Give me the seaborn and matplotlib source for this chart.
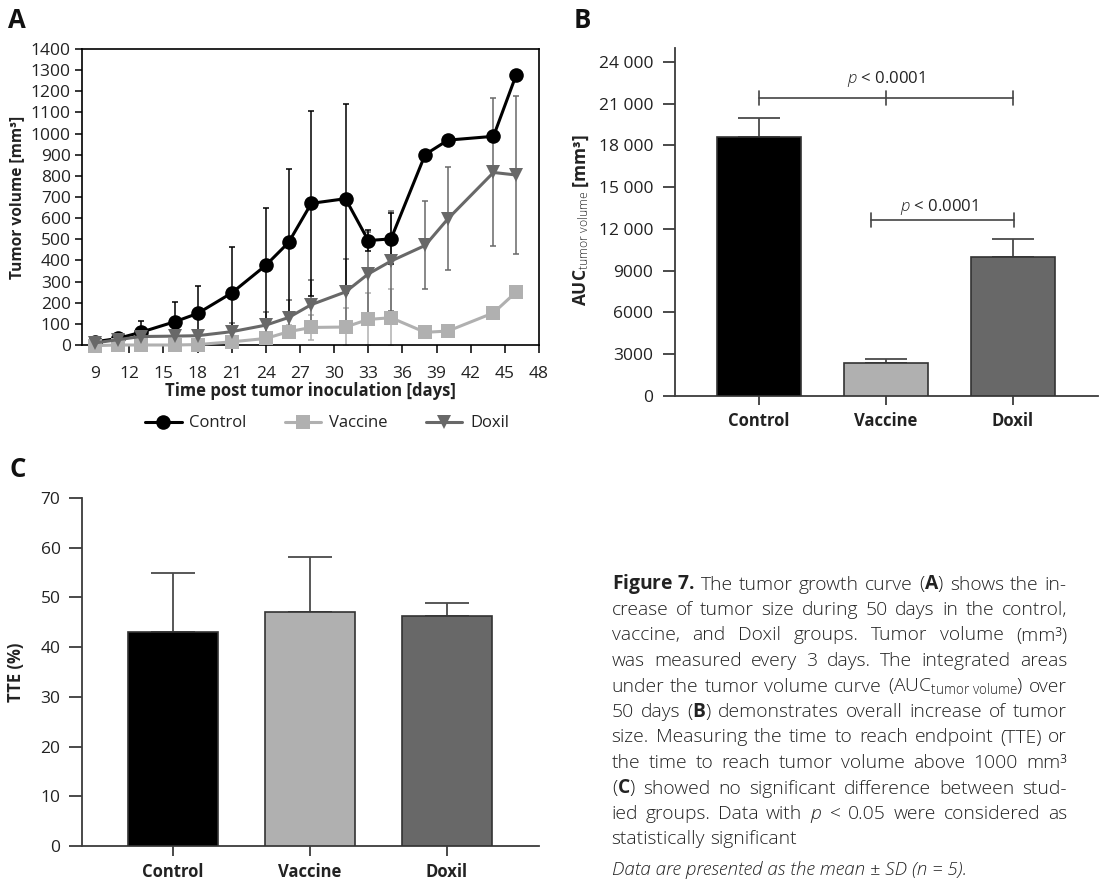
import numpy as np
import pandas as pd
import matplotlib
matplotlib.use("Agg")
import matplotlib.pyplot as plt
import seaborn as sns

# ---------------- data ----------------
days = [9, 11, 13, 16, 18, 21, 24, 26, 28, 31, 33, 35, 38, 40, 44, 46]
control_mean = [15, 31, 60, 110, 149, 246, 377, 485, 670, 692, 494, 502, 901, 969, 987, 1278]
control_sd = [8, 20, 52, 92, 130, 217, 270, 349, 438, 446, 48, 121, 0, 0, 0, 0]
vaccine_mean = [-3, 0, 0, 0, 2, 15, 31, 63, 83, 85, 121, 129, 60, 66, 152, 251]
vaccine_sd = [0, 0, 0, 0, 0, 10, 20, 30, 60, 90, 125, 134, 0, 0, 0, 0]
doxil_mean = [10, 25, 40, 42, 44, 63, 94, 130, 191, 251, 336, 397, 471, 597, 816, 804]
doxil_sd = [5, 10, 15, 20, 20, 40, 63, 85, 115, 154, 200, 235, 208, 243, 350, 372]

groups = ["Control", "Vaccine", "Doxil"]
auc_mean = [18630, 2350, 9950]
auc_sd = [1370, 310, 1320]
tte_mean = [43.0, 47.1, 46.2]
tte_sd = [11.9, 11.1, 2.7]

a_xticks = list(range(9, 49, 3))
a_yticks = list(range(0, 1401, 100))
b_yticks = [0, 3000, 6000, 9000, 12000, 15000, 18000, 21000, 24000]
b_yticklabels = ["0", "3000", "6000", "9000", "12 000", "15 000", "18 000", "21 000", "24 000"]
c_yticks = [0, 10, 20, 30, 40, 50, 60, 70]

caption_lines = [
    r"$\mathbf{Figure\ 7.}$ The tumor growth curve ($\mathbf{A}$) shows the in-",
    r"crease of tumor size during 50 days in the control,",
    r"vaccine, and Doxil groups. Tumor volume (mm³)",
    r"was measured every 3 days. The integrated areas",
    r"under the tumor volume curve (AUC$_{\mathrm{tumor\ volume}}$) over",
    r"50 days ($\mathbf{B}$) demonstrates overall increase of tumor",
    r"size. Measuring the time to reach endpoint (TTE) or",
    r"the time to reach tumor volume above 1000 mm³",
    r"($\mathbf{C}$) showed no significant difference between stud-",
    r"ied groups. Data with $\mathit{p}$ < 0.05 were considered as",
    r"statistically significant",
]
footnote = r"Data are presented as the mean ± SD (n = 5)."

colors = {"Control": "#000000", "Vaccine": "#b0b0b0", "Doxil": "#686868"}
markers = {"Control": "o", "Vaccine": "s", "Doxil": "v"}
marker_sizes = {"o": 10.5, "s": 9.5, "v": 10.5}

# ---------------- style ----------------
sns.set_theme(style="ticks")
FONT = "Open Sans"
plt.rcParams["font.family"] = [FONT, "DejaVu Sans"]
plt.rcParams["mathtext.fontset"] = "custom"
plt.rcParams["mathtext.rm"] = FONT + ":light"
plt.rcParams["mathtext.it"] = FONT + ":italic:light"
plt.rcParams["mathtext.bf"] = FONT + ":bold"
plt.rcParams["axes.unicode_minus"] = False

W, H = 1099, 882
fig = plt.figure(figsize=(W / 100, H / 100), dpi=100)


def ax_rect(l, t, r, b):
    return [l / W, 1 - b / H, (r - l) / W, (b - t) / H]


def tokenize(s):
    """split on spaces that are outside $...$ math segments"""
    toks, cur, in_math = [], "", False
    for ch in s:
        if ch == "$":
            in_math = not in_math
        if ch == " " and not in_math:
            toks.append(cur)
            cur = ""
        else:
            cur += ch
    toks.append(cur)
    return [t for t in toks if t]


TXT = "#222222"
SP = "#3c3c3c"

# ---------------- panel A ----------------
axA = fig.add_axes(ax_rect(82, 49, 539, 345))
long = pd.DataFrame({
    "day": days * 3,
    "volume": control_mean + vaccine_mean + doxil_mean,
    "group": ["Control"] * len(days) + ["Vaccine"] * len(days) + ["Doxil"] * len(days),
})
sds = {"Control": control_sd, "Vaccine": vaccine_sd, "Doxil": doxil_sd}
means = {"Control": control_mean, "Vaccine": vaccine_mean, "Doxil": doxil_mean}
for g in ["Vaccine", "Doxil", "Control"]:
    axA.errorbar(days, means[g], yerr=sds[g], fmt="none", ecolor=colors[g],
                 elinewidth=1.1, capsize=2.2, capthick=1.1, zorder=2)
sns.lineplot(data=long, x="day", y="volume", hue="group", style="group",
             hue_order=groups, style_order=groups, palette=colors, markers=markers,
             dashes=False, markersize=10, markeredgewidth=0, linewidth=2.2,
             ax=axA, clip_on=False, zorder=3)
for ln in axA.lines:
    m = ln.get_marker()
    if m in marker_sizes:
        ln.set_markersize(marker_sizes[m])
axA.set_xlim(7.85, 48)
axA.set_ylim(0, 1400)
axA.set_xticks(a_xticks)
axA.set_yticks(a_yticks)
for s in axA.spines.values():
    s.set_color("#000000")
    s.set_linewidth(1.2)
axA.tick_params(axis="both", direction="out", colors="#000000", labelcolor=TXT, labelsize=12.5, width=1.1)
axA.tick_params(axis="x", length=6, pad=9)
axA.tick_params(axis="y", length=5, pad=3)
axA.set_xlabel("Time post tumor inoculation [days]", fontsize=12, fontweight="bold", color=TXT, labelpad=0)
axA.set_ylabel("Tumor volume [mm³]", fontsize=11.2, fontweight="bold", color=TXT)
axA.yaxis.label.set_va("center")
axA.yaxis.set_label_coords((17 - 82) / 457, 0.5)
sns.move_legend(axA, "center", bbox_to_anchor=(0.536, -0.265), ncol=3, frameon=False,
                title=None, fontsize=12, handlelength=2.2, columnspacing=2.3, handletextpad=0.45,
                labelcolor=TXT)
for ln in axA.get_legend().get_lines():
    m = ln.get_marker()
    if m in marker_sizes:
        ln.set_markersize(marker_sizes[m])

# ---------------- panel B ----------------
axB = fig.add_axes(ax_rect(675, 48, 1098, 396))
dfB = pd.DataFrame({"group": groups, "auc": auc_mean})
sns.barplot(data=dfB, x="group", y="auc", hue="group", palette=colors, order=groups,
            hue_order=groups, width=0.66, edgecolor="#333333", linewidth=1.2,
            errorbar=None, legend=False, ax=axB, zorder=3)
axB.errorbar(range(3), auc_mean, yerr=[[0, 0, 0], auc_sd], fmt="none", ecolor="#4a4a4a",
             elinewidth=1.3, capsize=15, capthick=1.3, zorder=2)
axB.set_xlim(-0.661, 2.669)
axB.set_ylim(0, 25000)
axB.set_yticks(b_yticks)
axB.set_yticklabels(b_yticklabels)
sns.despine(ax=axB)
for s in ["left", "bottom"]:
    axB.spines[s].set_color(SP)
    axB.spines[s].set_linewidth(1.3)
axB.tick_params(axis="both", direction="out", colors=SP, labelcolor=TXT, width=1.3)
axB.tick_params(axis="y", length=8.6, pad=7, labelsize=12.5)
axB.tick_params(axis="x", length=6.5, pad=5, labelsize=12)
for lab in axB.get_xticklabels():
    lab.set_fontweight("bold")
axB.set_xlabel("")
axB.set_ylabel(r"AUC$_{\mathrm{tumor\ volume}}$ [mm³]", fontsize=12.5, fontweight="bold", color=TXT)
axB.yaxis.label.set_va("center")
axB.yaxis.set_label_coords((581 - 675) / 423, (396 - 220) / 348)
# significance brackets
tk = 500
axB.plot([0, 2], [21400, 21400], color="#444444", lw=1.2)
for xx in [0, 1, 2]:
    axB.plot([xx, xx], [21400 - tk, 21400 + tk], color="#444444", lw=1.2)
axB.text(1, 22750, r"$\mathit{p}$ < 0.0001", ha="center", va="center", fontsize=12, color=TXT)
axB.plot([0.88, 2.01], [12660, 12660], color="#444444", lw=1.2)
for xx in [0.88, 2.01]:
    axB.plot([xx, xx], [12660 - tk, 12660 + tk], color="#444444", lw=1.2)
axB.text(1.42, 13550, r"$\mathit{p}$ < 0.0001", ha="center", va="center", fontsize=12, color=TXT)

# ---------------- panel C ----------------
axC = fig.add_axes(ax_rect(82, 498, 538.6, 846))
dfC = pd.DataFrame({"group": groups, "tte": tte_mean})
sns.barplot(data=dfC, x="group", y="tte", hue="group", palette=colors, order=groups,
            hue_order=groups, width=0.66, edgecolor="#333333", linewidth=1.2,
            errorbar=None, legend=False, ax=axC, zorder=3)
axC.errorbar(range(3), tte_mean, yerr=[[0, 0, 0], tte_sd], fmt="none", ecolor="#4a4a4a",
             elinewidth=1.3, capsize=16, capthick=1.3, zorder=2)
axC.set_xlim(-0.665, 2.67)
axC.set_ylim(0, 70)
axC.set_yticks(c_yticks)
sns.despine(ax=axC)
for s in ["left", "bottom"]:
    axC.spines[s].set_color(SP)
    axC.spines[s].set_linewidth(1.3)
axC.tick_params(axis="both", direction="out", colors=SP, labelcolor=TXT, width=1.3)
axC.tick_params(axis="y", length=9.4, pad=6, labelsize=12.5)
axC.tick_params(axis="x", length=7, pad=5, labelsize=12)
for lab in axC.get_xticklabels():
    lab.set_fontweight("bold")
axC.set_xlabel("")
axC.set_ylabel("TTE (%)", fontsize=12, fontweight="bold", color=TXT)
axC.yaxis.label.set_va("center")
axC.yaxis.set_label_coords((16 - 82) / 456.6, 0.5)

# ---------------- panel letters ----------------
for letter, (px, py) in {"A": (17, 21), "B": (582, 21), "C": (18, 470)}.items():
    fig.text(px / W, 1 - py / H, letter, ha="center", va="center", fontsize=18.5,
             fontweight="bold", color="#111111")

# ---------------- caption (justified) ----------------
fig.canvas.draw()
renderer = fig.canvas.get_renderer()
x0, x1 = 611.5, 1067.0
CAP_FS = 13.9
for i, line in enumerate(caption_lines):
    yb = 583.5 + 25.5 * i + 6
    words = tokenize(line)
    texts = [fig.text(0, 1 - yb / H, w, ha="left", va="baseline", fontsize=CAP_FS,
                      fontweight="light", color=TXT)
             for w in words]
    widths = [t.get_window_extent(renderer).width for t in texts]
    if i < len(caption_lines) - 1 and len(words) > 1:
        gap = (x1 - x0 - sum(widths)) / (len(words) - 1)
    else:
        gap = CAP_FS * 100 / 72 * 0.26
    x = x0
    for t, w in zip(texts, widths):
        t.set_x(x / W)
        x += w + gap
fig.text(x0 / W, 1 - (870 + 5) / H, footnote, ha="left", va="baseline", fontsize=13.5,
         style="italic", fontweight="light", color=TXT)

fig.savefig("out.png", dpi=100)
